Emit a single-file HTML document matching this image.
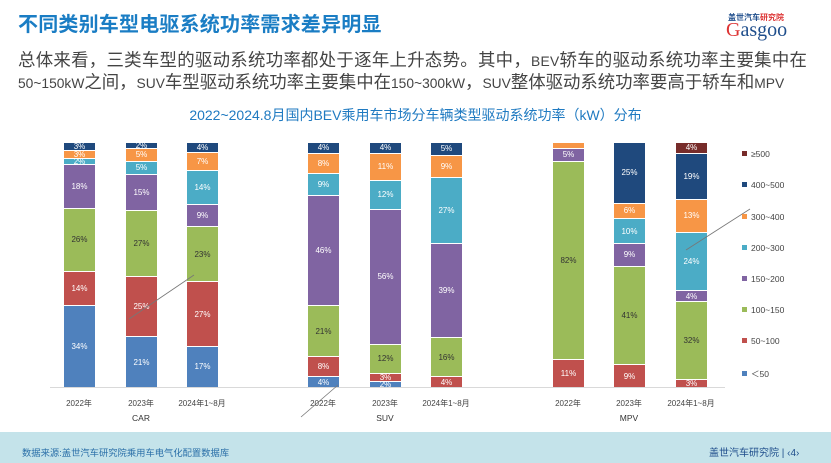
<!DOCTYPE html>
<html><head><meta charset="utf-8"><style>
*{margin:0;padding:0;box-sizing:border-box}
body{width:831px;height:463px;background:#fff;position:relative;overflow:hidden;font-family:"Liberation Sans","Noto Sans CJK SC",sans-serif}
.a{position:absolute;white-space:nowrap}
.bar{position:absolute;top:142px;height:245px;width:31px;display:flex;flex-direction:column-reverse}
.bar div{display:flex;align-items:center;justify-content:center;font-size:8px;color:#fff;overflow:hidden;border-top:1px solid #fff}
.c1{background:#4f81bd}.c2{background:#c0504d}.c3{background:#9bbb59;color:#333!important}.c4{background:#8064a2}.c5{background:#4bacc6}.c6{background:#f79646}.c7{background:#1f497d}.c8{background:#772c2a}
.xl{position:absolute;top:398px;font-size:8px;color:#444;width:60px;text-align:center}
.cl{position:absolute;top:413px;font-size:8.5px;color:#333;width:40px;text-align:center}
.lg{position:absolute;left:742px;font-size:8.5px;color:#444}
.lg i{display:inline-block;width:5px;height:5px;margin-right:4px;vertical-align:1px}
.l{font-size:13.8px}
</style></head><body>
<div class="a" style="left:18px;top:8px;font-size:20px;font-weight:bold;color:#1a7dc4;letter-spacing:0.2px">不同类别车型电驱系统功率需求差异明显</div>
<div class="a" style="left:728px;top:12px;font-size:8px;color:#1f4e8c;font-weight:bold">盖世汽车<span style="color:#d33">研究院</span></div>
<div class="a" style="left:726px;top:19px;font-size:20px;color:#1f4e8c;font-family:'Liberation Serif',serif"><span style="color:#d33">G</span>asgoo</div>
<div class="a" style="left:18px;top:50px;font-size:17.4px;color:#444;line-height:20px"><span style="letter-spacing:0.3px">总体来看，三类车型的驱动系统功率都处于逐年上升态势。其中，<span class="l">BEV</span>轿车的驱动系统功率主要集中在</span><br><span class="l">50~150kW</span>之间，<span class="l">SUV</span>车型驱动系统功率主要集中在<span class="l">150~300kW</span>，<span class="l">SUV</span>整体驱动系统功率要高于轿车和<span class="l">MPV</span></div>
<div class="a" style="left:0;width:831px;text-align:center;top:105px;font-size:14px;color:#1f7ac1">2022~2024.8月国内BEV乘用车市场分车辆类型驱动系统功率（kW）分布</div>

<div class="a" style="left:50px;top:387px;width:675px;height:1px;background:#d9d9d9"></div>

<div class="bar" style="left:64px"><div class="c1" style="flex:34">34%</div><div class="c2" style="flex:14">14%</div><div class="c3" style="flex:26">26%</div><div class="c4" style="flex:18">18%</div><div class="c5" style="flex:2">2%</div><div class="c6" style="flex:3">3%</div><div class="c7" style="flex:3">3%</div></div>
<div class="bar" style="left:126px"><div class="c1" style="flex:21">21%</div><div class="c2" style="flex:25">25%</div><div class="c3" style="flex:27">27%</div><div class="c4" style="flex:15">15%</div><div class="c5" style="flex:5">5%</div><div class="c6" style="flex:5">5%</div><div class="c7" style="flex:2">2%</div></div>
<div class="bar" style="left:187px"><div class="c1" style="flex:17">17%</div><div class="c2" style="flex:27">27%</div><div class="c3" style="flex:23">23%</div><div class="c4" style="flex:9">9%</div><div class="c5" style="flex:14">14%</div><div class="c6" style="flex:7">7%</div><div class="c7" style="flex:4">4%</div></div>

<div class="bar" style="left:308px"><div class="c1" style="flex:4">4%</div><div class="c2" style="flex:8">8%</div><div class="c3" style="flex:21">21%</div><div class="c4" style="flex:46">46%</div><div class="c5" style="flex:9">9%</div><div class="c6" style="flex:8">8%</div><div class="c7" style="flex:4">4%</div></div>
<div class="bar" style="left:370px"><div class="c1" style="flex:2">2%</div><div class="c2" style="flex:3">3%</div><div class="c3" style="flex:12">12%</div><div class="c4" style="flex:56">56%</div><div class="c5" style="flex:12">12%</div><div class="c6" style="flex:11">11%</div><div class="c7" style="flex:4">4%</div></div>
<div class="bar" style="left:431px"><div class="c2" style="flex:4">4%</div><div class="c3" style="flex:16">16%</div><div class="c4" style="flex:39">39%</div><div class="c5" style="flex:27">27%</div><div class="c6" style="flex:9">9%</div><div class="c7" style="flex:5">5%</div></div>

<div class="bar" style="left:553px"><div class="c2" style="flex:11">11%</div><div class="c3" style="flex:82">82%</div><div class="c4" style="flex:5">5%</div><div class="c6" style="flex:2"></div></div>
<div class="bar" style="left:614px"><div class="c2" style="flex:9">9%</div><div class="c3" style="flex:41">41%</div><div class="c4" style="flex:9">9%</div><div class="c5" style="flex:10">10%</div><div class="c6" style="flex:6">6%</div><div class="c7" style="flex:25">25%</div></div>
<div class="bar" style="left:676px"><div class="c2" style="flex:3">3%</div><div class="c3" style="flex:32">32%</div><div class="c4" style="flex:4">4%</div><div class="c5" style="flex:24">24%</div><div class="c6" style="flex:13">13%</div><div class="c7" style="flex:19">19%</div><div class="c8" style="flex:4">4%</div></div>

<svg class="a" style="left:0;top:0" width="831" height="463"><g stroke="#777" stroke-width="0.8"><line x1="129" y1="319" x2="194" y2="275"/><line x1="301" y1="417" x2="338" y2="385"/><line x1="686" y1="250" x2="750" y2="209"/></g></svg>

<div class="xl" style="left:49px">2022年</div><div class="xl" style="left:111px">2023年</div><div class="xl" style="left:172px">2024年1~8月</div>
<div class="xl" style="left:293px">2022年</div><div class="xl" style="left:355px">2023年</div><div class="xl" style="left:416px">2024年1~8月</div>
<div class="xl" style="left:538px">2022年</div><div class="xl" style="left:599px">2023年</div><div class="xl" style="left:661px">2024年1~8月</div>
<div class="cl" style="left:121px">CAR</div><div class="cl" style="left:365px">SUV</div><div class="cl" style="left:609px">MPV</div>

<div class="lg" style="top:149px"><i class="c8"></i>≥500</div>
<div class="lg" style="top:180px"><i class="c7"></i>400~500</div>
<div class="lg" style="top:212px"><i class="c6"></i>300~400</div>
<div class="lg" style="top:243px"><i class="c5"></i>200~300</div>
<div class="lg" style="top:274px"><i class="c4"></i>150~200</div>
<div class="lg" style="top:305px"><i class="c3"></i>100~150</div>
<div class="lg" style="top:336px"><i class="c2"></i>50~100</div>
<div class="lg" style="top:368px"><i class="c1"></i>＜50</div>

<div class="a" style="left:0;top:432px;width:831px;height:31px;background:#c4e3ea"></div>
<div class="a" style="left:22px;top:445px;font-size:9.3px;color:#2a6fa8">数据来源:盖世汽车研究院乘用车电气化配置数据库</div>
<div class="a" style="left:709px;top:444px;font-size:10px;color:#1f4e8c">盖世汽车研究院 | ‹4›</div>
</body></html>
